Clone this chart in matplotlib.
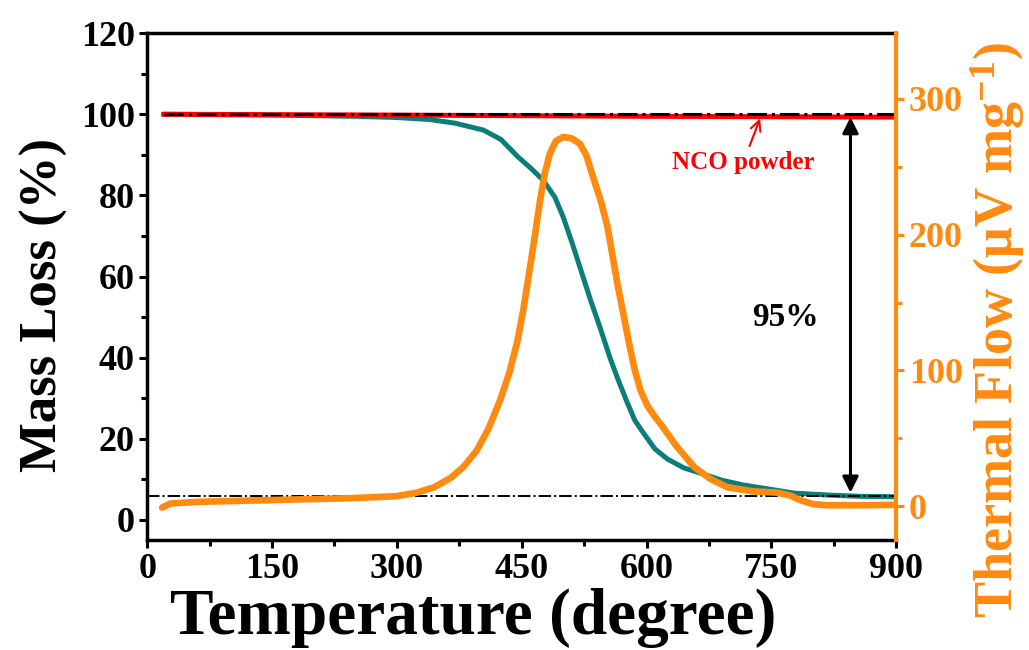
import matplotlib
matplotlib.use("Agg")
import matplotlib.pyplot as plt
from matplotlib.ticker import MultipleLocator

plt.rcParams['font.family'] = ['Liberation Serif', 'DejaVu Serif']
plt.rcParams['font.weight'] = 'bold'
plt.rcParams['mathtext.default'] = 'regular'

# TG curve (mass loss, %)
temp_tg = [20, 150, 250, 300, 340, 370, 404, 425, 445, 462, 476, 490, 500, 511, 522, 533, 544,
           556, 565, 577, 586, 596, 610, 625, 645, 665, 690, 716, 750, 777, 820, 857, 900]
mass_tg = [100, 99.8, 99.5, 99.2, 98.7, 97.8, 96.1, 93.8, 89.6, 86.5, 83.7, 79.5, 74.6, 68, 61, 54, 47.5,
           40, 35, 28.8, 24.5, 21.5, 17.5, 15, 12.8, 11.5, 9.8, 8.6, 7.5, 6.6, 6.1, 5.8, 5.7]

# NCO powder reference
temp_nco = [20, 300, 600, 900]
mass_nco = [100, 99.8, 99.5, 99.3]

# DTA curve (thermal flow, uV/mg)
temp_dta = [18, 28, 60, 140, 244, 300, 324, 345, 365, 380, 396, 410, 424, 435, 445, 452, 460, 466,
            472, 478, 484, 491, 500, 510, 520, 528, 536, 545, 553, 559, 565, 572, 579, 586, 593,
            601, 610, 620, 635, 657, 677, 697, 727, 757, 772, 785, 800, 817, 857, 900]
flow_dta = [-1, 2, 3.2, 4.4, 5.9, 7.4, 10, 14, 21, 29, 41, 57, 78, 98, 122, 145, 176, 200,
            225, 246, 260, 269, 272, 271, 267, 258, 242, 225, 206, 185, 164, 142, 120, 100, 85,
            74, 66, 58, 45, 29, 20, 14, 11, 10, 8, 4.4, 1.5, 0.7, 0.7, 1]

teal = '#0b7d7a'
orange = '#ff8a10'

fig = plt.figure(figsize=(10.29, 6.5), dpi=100)
ax = fig.add_axes([0.143, 0.169, 0.728, 0.78])
ax2 = ax.twinx()

ax.plot(temp_tg, mass_tg, color=teal, lw=3.6, solid_capstyle='round', zorder=2)
ax.plot(temp_nco, mass_nco, color='red', lw=3.6, zorder=3)
ax.plot([20, 900], [100, 100], color='black', lw=2.2, ls='-.', zorder=4)
ax.axhline(6, color='black', lw=1.4, ls='-.', zorder=4)
ax.annotate('', xy=(845, 6), xytext=(845, 100),
            arrowprops=dict(arrowstyle='<|-|>', color='black', lw=2.2, mutation_scale=24))
ax.text(767, 50, '95%', fontsize=24, fontweight='bold', ha='center', va='center')
ax.annotate('NCO powder', xy=(737, 99.3), xytext=(716, 88), color='red', fontsize=18,
            fontweight='bold', ha='center', va='center',
            arrowprops=dict(arrowstyle='->', color='red', lw=1.5, shrinkA=2, shrinkB=1))

ax2.plot(temp_dta, flow_dta, color=orange, lw=4.8, solid_capstyle='round')

ax.set_xlim(0, 900)
ax.set_ylim(-5, 120)
ax2.set_ylim(-25, 348.5)

ax.xaxis.set_major_locator(MultipleLocator(150))
ax.xaxis.set_minor_locator(MultipleLocator(75))
ax.yaxis.set_major_locator(MultipleLocator(20))
ax.yaxis.set_minor_locator(MultipleLocator(10))
ax2.yaxis.set_major_locator(MultipleLocator(100))
ax2.yaxis.set_minor_locator(MultipleLocator(50))

for s in ['left', 'bottom', 'top']:
    ax.spines[s].set_linewidth(2.5)
ax.spines['right'].set_visible(False)
for s in ['left', 'bottom', 'top']:
    ax2.spines[s].set_visible(False)
ax2.spines['right'].set_color(orange)
ax2.spines['right'].set_linewidth(3)

ax.tick_params(axis='both', which='major', direction='out', length=6, width=2.2, labelsize=26,
               pad=3)
ax.tick_params(axis='both', which='minor', direction='out', length=4, width=2.2)
ax.tick_params(top=False, right=False, which='both')
ax2.tick_params(axis='y', which='major', direction='out', length=6, width=2.2, labelsize=26,
                colors=orange, pad=3)
ax2.tick_params(axis='y', which='minor', direction='out', length=4, width=2.2, colors=orange)

ax.set_xlabel('Temperature (degree)', fontsize=47, fontweight='bold')
ax.xaxis.set_label_coords(0.435, -0.095, transform=ax.transAxes)
ax.set_ylabel('Mass Loss (%)', fontsize=38, fontweight='bold')
ax.yaxis.set_label_coords(-0.105, 0.463, transform=ax.transAxes)
ax2.set_ylabel('Thermal Flow (μV mg$^{-1}$)', fontsize=39, fontweight='bold', color=orange)
ax2.yaxis.set_label_coords(1.096, 0.414, transform=ax.transAxes)

fig.savefig('out.png', dpi=100)
